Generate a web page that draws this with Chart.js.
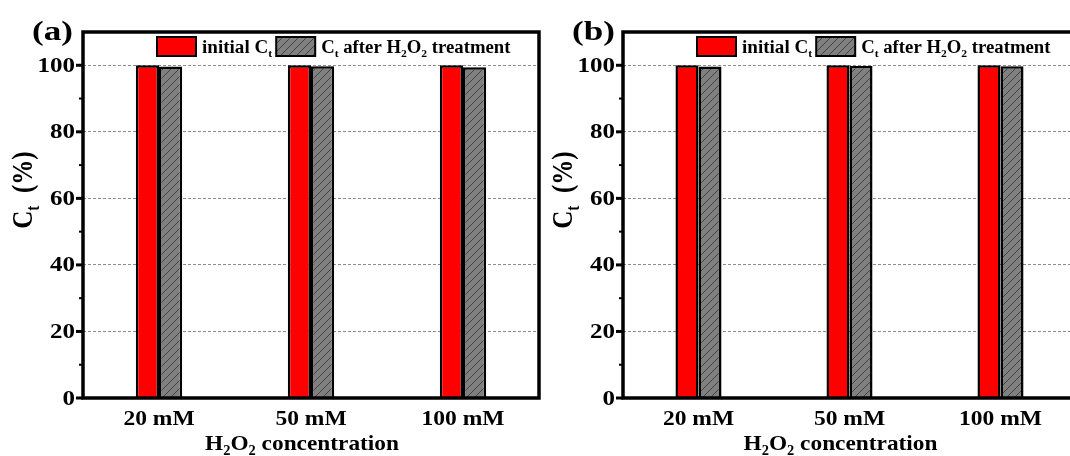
<!DOCTYPE html>
<html>
<head>
<meta charset="utf-8">
<script src="https://cdn.jsdelivr.net/npm/chart.js@4.4.0/dist/chart.umd.min.js"></script>
<style>
  html, body { margin: 0; padding: 0; background: #fff; overflow: hidden; }
  #wrap { position: relative; width: 1070px; height: 456px; overflow: hidden; }
  .panel { position: absolute; top: 0; width: 545px; height: 456px; }
  #probe { position: absolute; left: -999px; top: 0; font: bold 20px "Liberation Serif"; }
</style>
</head>
<body>
<span id="probe">Ct H2O2 0123456789</span>
<div id="wrap">
  <div class="panel" style="left:0"><canvas id="chartA"></canvas></div>
  <div class="panel" style="left:540px"><canvas id="chartB"></canvas></div>
</div>
<script>
const categories = ["20 mM", "50 mM", "100 mM"];
const initialA = [100, 100, 100];
const treatedA = [99.6, 99.7, 99.4];
const initialB = [100, 100, 100];
const treatedB = [99.6, 99.8, 99.7];
const yTicks = [0, 20, 40, 60, 80, 100];
const yMinor = [10, 30, 50, 70, 90];

const FONT = '"Liberation Serif"';

function hatch() {
  const c = document.createElement("canvas");
  c.width = 8; c.height = 8;
  const g = c.getContext("2d");
  g.fillStyle = "#808080";
  g.fillRect(0, 0, 8, 8);
  g.strokeStyle = "#333";
  g.lineWidth = 0.8;
  g.beginPath();
  g.moveTo(-1, 9); g.lineTo(9, -1);
  g.moveTo(-3, 3); g.lineTo(3, -3);
  g.moveTo(5, 11); g.lineTo(11, 5);
  g.stroke();
  return g.createPattern(c, "repeat");
}

// text with subscripts: parts = [[text, isSub], ...]
function rich(ctx, parts, x, y, size, sx, align, rotate) {
  const f = (s) => `bold ${s}px ${FONT}`;
  let w = 0;
  parts.forEach((p) => {
    ctx.font = f(p[1] ? size * 0.62 : size);
    w += ctx.measureText(p[0]).width;
  });
  ctx.save();
  ctx.translate(x, y);
  ctx.scale(sx, 1);
  if (rotate) ctx.rotate(-Math.PI / 2);
  let cx = align === "center" ? -w / 2 : align === "right" ? -w : 0;
  ctx.textAlign = "left";
  ctx.textBaseline = "alphabetic";
  ctx.fillStyle = "#000";
  parts.forEach((p) => {
    const s = p[1] ? size * 0.62 : size;
    ctx.font = f(s);
    ctx.fillText(p[0], cx, p[1] ? size * 0.24 : 0);
    cx += ctx.measureText(p[0]).width;
  });
  ctx.restore();
  return w * sx;
}

const decor = {
  id: "decor",
  afterDraw(chart, args, opts) {
    const { ctx, chartArea: a, scales: { x, y } } = chart;
    ctx.save();
    ctx.strokeStyle = "#000";
    ctx.lineWidth = 3.5;
    ctx.strokeRect(a.left, a.top, a.right - a.left, a.bottom - a.top);

    // y tick marks
    ctx.lineWidth = 3;
    yTicks.forEach((v) => {
      const py = y.getPixelForValue(v);
      ctx.beginPath(); ctx.moveTo(a.left - 7, py); ctx.lineTo(a.left, py); ctx.stroke();
    });
    ctx.lineWidth = 2;
    yMinor.forEach((v) => {
      const py = y.getPixelForValue(v);
      ctx.beginPath(); ctx.moveTo(a.left - 4, py); ctx.lineTo(a.left, py); ctx.stroke();
    });

    // y tick labels
    yTicks.forEach((v) => {
      rich(ctx, [[String(v)]], a.left - 8, y.getPixelForValue(v) + 6.5, 20, 1.25, "right");
    });
    // x tick labels
    categories.forEach((c, i) => {
      rich(ctx, [[c]], x.getPixelForValue(i), 425, 21, 1.12, "center");
    });

    // axis titles
    rich(ctx, [["C"], ["t", 1], ["  (%)"]], a.left - 51, (a.top + a.bottom) / 2 - 25, 25, 1.2, "center", true);
    rich(ctx, [["H"], ["2", 1], ["O"], ["2", 1], [" concentration"]],
      (a.left + a.right) / 2 - 9, 450, 22, 1.06, "center");

    // panel label
    rich(ctx, [[opts.label]], a.left - 51, 40, 27, 1.3, "left");

    // legend
    let lx = a.left + 74;
    const by = 37, bw = 39, bh = 19;
    const box = (fill) => {
      ctx.fillStyle = fill;
      ctx.fillRect(lx, by, bw, bh);
      ctx.lineWidth = 2;
      ctx.strokeStyle = "#000";
      ctx.strokeRect(lx, by, bw, bh);
      lx += bw + 6;
    };
    box("#ff0000");
    lx += rich(ctx, [["initial C"], ["t", 1]], lx, 53, 18, 1.06, "left") + 4;
    box(opts.pattern);
    rich(ctx, [["C"], ["t", 1], [" after H"], ["2", 1], ["O"], ["2", 1], [" treatment"]], lx, 53, 18, 1.04, "left");
    ctx.restore();
  },
};

function makePanel(id, label, initial, treated, padRight) {
  const pattern = hatch();
  return new Chart(document.getElementById(id), {
    type: "bar",
    data: {
      labels: categories,
      datasets: [
        {
          label: "initial Ct",
          data: initial,
          backgroundColor: "#ff0000",
          borderColor: "#000",
          borderWidth: 2.5,
          categoryPercentage: 0.305,
          barPercentage: 1,
        },
        {
          label: "Ct after H2O2 treatment",
          data: treated,
          backgroundColor: pattern,
          borderColor: "#000",
          borderWidth: 2.5,
          categoryPercentage: 0.305,
          barPercentage: 1,
        },
      ],
    },
    options: {
      responsive: true,
      maintainAspectRatio: false,
      animation: false,
      layout: { padding: { top: 32, right: padRight, left: 0, bottom: 0 } },
      plugins: {
        legend: { display: false },
        tooltip: { enabled: false },
        decor: { label, pattern },
      },
      scales: {
        x: {
          grid: { display: false },
          border: { display: false },
          ticks: { display: false },
          afterFit: (s) => { s.height = 58; },
        },
        y: {
          min: 0,
          max: 110,
          ticks: { display: false },
          afterBuildTicks: (s) => { s.ticks = yTicks.map((v) => ({ value: v })); },
          grid: {
            color: (c) => (c.tick && c.tick.value === 0 ? "rgba(0,0,0,0)" : "#8c8c8c"),
            lineWidth: 1,
            drawTicks: false,
          },
          border: { display: false, dash: [3, 2] },
          afterFit: (s) => { s.width = 83; },
        },
      },
    },
    plugins: [decor],
  });
}

document.fonts.load('bold 20px "Liberation Serif"').finally(() => {
  makePanel("chartA", "(a)", initialA, treatedA, 6);
  makePanel("chartB", "(b)", initialB, treatedB, 9);
});
</script>
</body>
</html>
